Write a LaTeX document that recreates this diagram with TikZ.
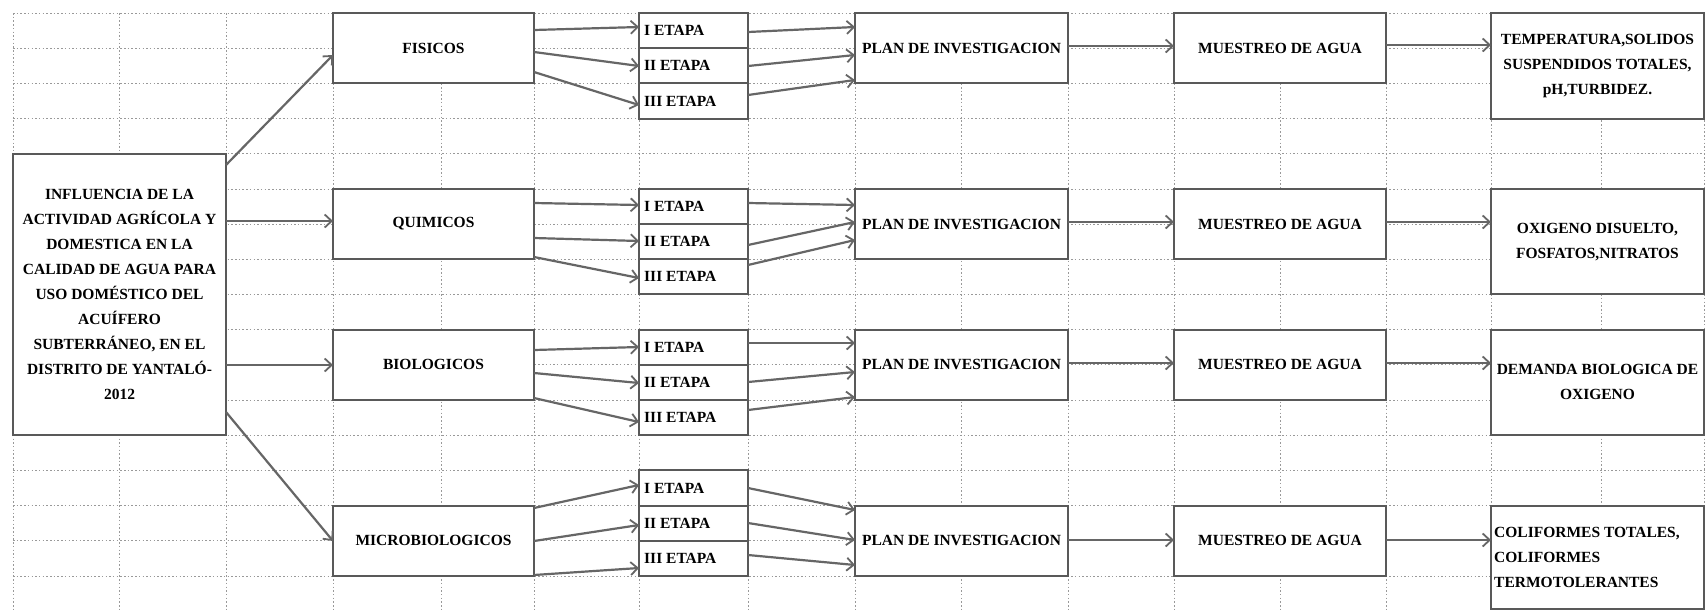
\documentclass[tikz,border=0pt]{standalone}
\usepackage{fontspec}
\setmainfont{Liberation Serif}
\usetikzlibrary{arrows.meta}
\newcommand\dfont{\fontsize{15.5}{25}\selectfont\bfseries}
\newcommand\mfont{\fontsize{15.5}{26.2}\selectfont\bfseries}
\newcommand\cbox[6]{%
  \pgfmathsetmacro\cx{(#2+#4)/2}%
  \pgfmathsetmacro\cy{(#3+#5)/2}%
  \pgfmathsetmacro\cw{#4-#2}%
  \pgfmathsetmacro\ch{#5-#3}%
  \node[box, minimum width=\cw pt, minimum height=\ch pt] (#1) at (\cx,\cy) {#6};}
\begin{document}
\begin{tikzpicture}[x=1pt,y=-1pt,
  grid/.style={draw=black!40, line width=0.7pt, dash pattern=on 1.5pt off 2.2pt},
  box/.style={draw=black!65, line width=2pt, fill=white, inner sep=0pt, outer sep=0pt, font=\dfont, align=center},
  lbl/.style={inner sep=0pt, font=\dfont, align=left, anchor=west},
  arr/.style={draw=black!60, line width=2.2pt, -{Straight Barb[length=7pt,width=13pt,line width=1.8pt]}}
]
\useasboundingbox (0,0) rectangle (1707,611);
\fill[white] (0,0) rectangle (1707,611);
% spreadsheet grid
\foreach \y in {13,48.2,83.4,118.5,153.7,188.9,224.1,259.3,294.4,329.6,364.8,400,435.2,470.3,505.5,540.7,575.9}
  \draw[grid] (13,\y) -- (1707,\y);
\foreach \x in {13,119,226,333,441,534,639,748,855,961,1068,1174,1280,1386,1491,1601,1704}
  \draw[grid] (\x,13) -- (\x,611);

% main box
\cbox{main}{13}{153.7}{226}{435.2}{\mfont INFLUENCIA DE LA\\ACTIVIDAD AGRÍCOLA Y\\DOMESTICA EN LA\\CALIDAD DE AGUA PARA\\USO DOMÉSTICO DEL\\ACUÍFERO\\SUBTERRÁNEO, EN EL\\DISTRITO DE YANTALÓ-\\2012}

% parameter groups
\cbox{fis}{333}{13}{534}{83.4}{FISICOS}
\cbox{qui}{333}{188.9}{534}{259.3}{QUIMICOS}
\cbox{bio}{333}{329.6}{534}{400}{BIOLOGICOS}
\cbox{mic}{333}{505.5}{534}{575.9}{MICROBIOLOGICOS}

% etapas
\cbox{e11}{639}{13}{748}{48.2}{}
\cbox{e12}{639}{48.2}{748}{83.4}{}
\cbox{e13}{639}{83.4}{748}{118.5}{}
\cbox{e21}{639}{188.9}{748}{224.1}{}
\cbox{e22}{639}{224.1}{748}{259.3}{}
\cbox{e23}{639}{259.3}{748}{294.4}{}
\cbox{e31}{639}{329.6}{748}{364.8}{}
\cbox{e32}{639}{364.8}{748}{400}{}
\cbox{e33}{639}{400}{748}{435.2}{}
\cbox{e41}{639}{470.3}{748}{505.5}{}
\cbox{e42}{639}{505.5}{748}{540.7}{}
\cbox{e43}{639}{540.7}{748}{575.9}{}
\foreach \g in {1,2,3,4}{
  \node[lbl] (t\g1) at ([xshift=5pt]e\g1.west) {I ETAPA};
  \node[lbl] (t\g2) at ([xshift=5pt]e\g2.west) {II ETAPA};
  \node[lbl] (t\g3) at ([xshift=5pt]e\g3.west) {III ETAPA};
}

% plan
\cbox{p1}{855}{13}{1068}{83.4}{PLAN DE INVESTIGACION}
\cbox{p2}{855}{188.9}{1068}{259.3}{PLAN DE INVESTIGACION}
\cbox{p3}{855}{329.6}{1068}{400}{PLAN DE INVESTIGACION}
\cbox{p4}{855}{505.5}{1068}{575.9}{PLAN DE INVESTIGACION}

% muestreo
\cbox{m1}{1174}{13}{1386}{83.4}{MUESTREO DE AGUA}
\cbox{m2}{1174}{188.9}{1386}{259.3}{MUESTREO DE AGUA}
\cbox{m3}{1174}{329.6}{1386}{400}{MUESTREO DE AGUA}
\cbox{m4}{1174}{505.5}{1386}{575.9}{MUESTREO DE AGUA}

% results
\cbox{r1}{1491}{13}{1704}{118.5}{TEMPERATURA,SOLIDOS\\SUSPENDIDOS TOTALES,\\pH,TURBIDEZ.}
\cbox{r2}{1491}{188.9}{1704}{294.4}{OXIGENO DISUELTO,\\FOSFATOS,NITRATOS}
\cbox{r3}{1491}{329.6}{1704}{435.2}{DEMANDA BIOLOGICA DE\\OXIGENO}
\cbox{r4}{1491}{505.5}{1704}{609}{}
\node[lbl] (r4t) at ([xshift=3pt]r4.west) {COLIFORMES TOTALES,\\COLIFORMES\\TERMOTOLERANTES};

% main -> groups
\draw[arr] (main.east |- 0,165) -- (fis.west |- 0,55);
\draw[arr] (main.east |- 0,221) -- (qui.west |- 0,221);
\draw[arr] (main.east |- 0,365) -- (bio.west |- 0,365);
\draw[arr] (main.east |- 0,412) -- (mic.west |- 0,541);

% groups -> etapas
\draw[arr] (fis.east |- 0,30) -- (e11.west |- 0,27);
\draw[arr] (fis.east |- 0,52) -- (e12.west |- 0,66);
\draw[arr] (fis.east |- 0,72) -- (e13.west |- 0,105);
\draw[arr] (qui.east |- 0,203) -- (e21.west |- 0,205);
\draw[arr] (qui.east |- 0,238) -- (e22.west |- 0,241);
\draw[arr] (qui.east |- 0,257) -- (e23.west |- 0,278);
\draw[arr] (bio.east |- 0,350) -- (e31.west |- 0,347);
\draw[arr] (bio.east |- 0,373) -- (e32.west |- 0,383);
\draw[arr] (bio.east |- 0,398) -- (e33.west |- 0,422);
\draw[arr] (mic.east |- 0,508) -- (e41.west |- 0,485);
\draw[arr] (mic.east |- 0,541) -- (e42.west |- 0,525);
\draw[arr] (mic.east |- 0,575) -- (e43.west |- 0,568);

% etapas -> plan
\draw[arr] (e11.east |- 0,32) -- (p1.west |- 0,27);
\draw[arr] (e12.east |- 0,66) -- (p1.west |- 0,55);
\draw[arr] (e13.east |- 0,95) -- (p1.west |- 0,80);
\draw[arr] (e21.east |- 0,203) -- (p2.west |- 0,205);
\draw[arr] (e22.east |- 0,245) -- (p2.west |- 0,222);
\draw[arr] (e23.east |- 0,265) -- (p2.west |- 0,240);
\draw[arr] (e31.east |- 0,343) -- (p3.west |- 0,343);
\draw[arr] (e32.east |- 0,382) -- (p3.west |- 0,372);
\draw[arr] (e33.east |- 0,410) -- (p3.west |- 0,397);
\draw[arr] (e41.east |- 0,488) -- (p4.west |- 0,510);
\draw[arr] (e42.east |- 0,523) -- (p4.west |- 0,540);
\draw[arr] (e43.east |- 0,555) -- (p4.west |- 0,565);

% plan -> muestreo -> results
\draw[arr] (p1.east |- 0,46) -- (m1.west |- 0,46);
\draw[arr] (p2.east |- 0,222) -- (m2.west |- 0,222);
\draw[arr] (p3.east |- 0,363) -- (m3.west |- 0,363);
\draw[arr] (p4.east |- 0,540) -- (m4.west |- 0,540);
\draw[arr] (m1.east |- 0,45) -- (r1.west |- 0,45);
\draw[arr] (m2.east |- 0,222) -- (r2.west |- 0,222);
\draw[arr] (m3.east |- 0,363) -- (r3.west |- 0,363);
\draw[arr] (m4.east |- 0,540) -- (r4.west |- 0,540);
\end{tikzpicture}
\end{document}
